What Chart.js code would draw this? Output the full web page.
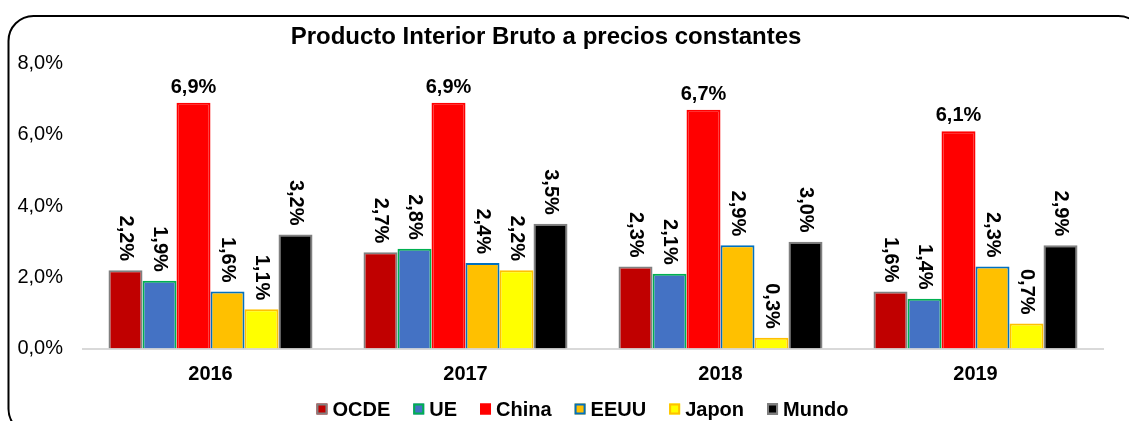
<!DOCTYPE html>
<html>
<head>
<meta charset="utf-8">
<script src="https://cdn.jsdelivr.net/npm/chart.js@4.4.1/dist/chart.umd.min.js"></script>
<style>
  html, body { margin: 0; padding: 0; background: #ffffff; }
  #wrap { width: 1129px; height: 421px; }
</style>
</head>
<body>
<div id="wrap"><canvas id="c" width="1129" height="421"></canvas></div>
<script>
const titleText = 'Producto Interior Bruto a precios constantes';
const categories = ['2016', '2017', '2018', '2019'];
const seriesNames = ['OCDE', 'UE', 'China', 'EEUU', 'Japon', 'Mundo'];
const ocde  = [2.2, 2.7, 2.3, 1.6];
const ue    = [1.9, 2.8, 2.1, 1.4];
const china = [6.9, 6.9, 6.7, 6.1];
const eeuu  = [1.6, 2.4, 2.9, 2.3];
const japon = [1.1, 2.2, 0.3, 0.7];
const mundo = [3.2, 3.5, 3.0, 2.9];
const yTickLabels = ['0,0%', '2,0%', '4,0%', '6,0%', '8,0%'];

const FONT = '"Liberation Sans", Arial, Helvetica, sans-serif';
const fills   = ['#C00000', '#4472C4', '#FF0000', '#FFC000', '#FFFF00', '#000000'];
const borders = ['#808080', '#00B050', '#FF0000', '#0070C0', '#FFC000', '#808080'];
const seriesValues = [ocde, ue, china, eeuu, japon, mundo];

const fmt = v => v.toFixed(1).replace('.', ',') + '%';

const framePlugin = {
  id: 'frame',
  beforeDraw(chart) {
    const ctx = chart.ctx;
    ctx.save();
    ctx.fillStyle = '#ffffff';
    ctx.fillRect(0, 0, chart.width, chart.height);
    ctx.beginPath();
    ctx.roundRect(8.5, 16, 1135, 418, 25);
    ctx.lineWidth = 2;
    ctx.strokeStyle = '#000000';
    ctx.stroke();
    ctx.restore();
  },
  afterDraw(chart) {
    const ctx = chart.ctx;
    ctx.save();
    // title
    ctx.font = 'bold 24px ' + FONT;
    ctx.fillStyle = '#000000';
    ctx.textAlign = 'center';
    ctx.textBaseline = 'middle';
    ctx.fillText(titleText, 546, 37);
    // legend
    ctx.font = 'bold 20px ' + FONT;
    const box = 11, gapBT = 5, gapItem = 23;
    const widths = chart.data.datasets.map(d => ctx.measureText(d.label).width);
    let total = 0;
    widths.forEach(w => { total += box + gapBT + w; });
    total += gapItem * (widths.length - 1);
    let x = 582.5 - total / 2;
    const yc = 409;
    chart.data.datasets.forEach((d, i) => {
      ctx.fillStyle = d.backgroundColor;
      ctx.fillRect(x, yc - box / 2, box, box);
      ctx.lineWidth = 2;
      ctx.strokeStyle = d.borderColor;
      ctx.strokeRect(x + 1, yc - box / 2 + 1, box - 2, box - 2);
      ctx.fillStyle = '#000000';
      ctx.textAlign = 'left';
      ctx.textBaseline = 'middle';
      ctx.fillText(d.label, x + box + gapBT, yc + 1);
      x += box + gapBT + widths[i] + gapItem;
    });
    ctx.restore();
  }
};

const labelPlugin = {
  id: 'barLabels',
  afterDatasetsDraw(chart) {
    const ctx = chart.ctx;
    ctx.save();
    ctx.font = 'bold 20px ' + FONT;
    ctx.fillStyle = '#000000';
    chart.data.datasets.forEach((ds, di) => {
      const meta = chart.getDatasetMeta(di);
      meta.data.forEach((bar, i) => {
        const txt = fmt(ds.data[i]);
        if (ds.label === 'China') {
          ctx.textAlign = 'center';
          ctx.textBaseline = 'alphabetic';
          ctx.fillText(txt, bar.x, bar.y - 10);
        } else {
          ctx.save();
          ctx.translate(bar.x, bar.y - 9);
          ctx.rotate(Math.PI / 2);
          ctx.textAlign = 'right';
          ctx.textBaseline = 'middle';
          ctx.fillText(txt, 0, 0);
          ctx.restore();
        }
      });
    });
    ctx.restore();
  }
};

new Chart(document.getElementById('c'), {
  type: 'bar',
  data: {
    labels: categories,
    datasets: seriesNames.map((name, i) => ({
      label: name,
      data: seriesValues[i],
      backgroundColor: fills[i],
      borderColor: borders[i],
      borderWidth: 2,
      categoryPercentage: 0.8,
      barPercentage: 1.0
    }))
  },
  options: {
    responsive: false,
    devicePixelRatio: 1,
    animation: false,
    events: [],
    layout: { padding: { left: 17, right: 26, top: 63.5, bottom: 34.5 } },
    plugins: {
      legend: { display: false },
      title: { display: false },
      tooltip: { enabled: false }
    },
    scales: {
      x: {
        grid: { display: false, drawTicks: false },
        border: { display: true, color: '#D9D9D9', width: 2 },
        ticks: {
          color: '#000000',
          font: { family: FONT, size: 20, weight: 'bold' },
          padding: 14
        },
        afterFit(scale) { scale.height = 38; }
      },
      y: {
        min: 0,
        max: 8,
        grid: { display: false, drawTicks: false },
        border: { display: false },
        ticks: {
          stepSize: 2,
          color: '#000000',
          font: { family: FONT, size: 20 },
          padding: 20,
          callback: (v, idx) => yTickLabels[idx]
        },
        afterFit(scale) { scale.width = 66; }
      }
    }
  },
  plugins: [framePlugin, labelPlugin]
});
</script>
</body>
</html>
